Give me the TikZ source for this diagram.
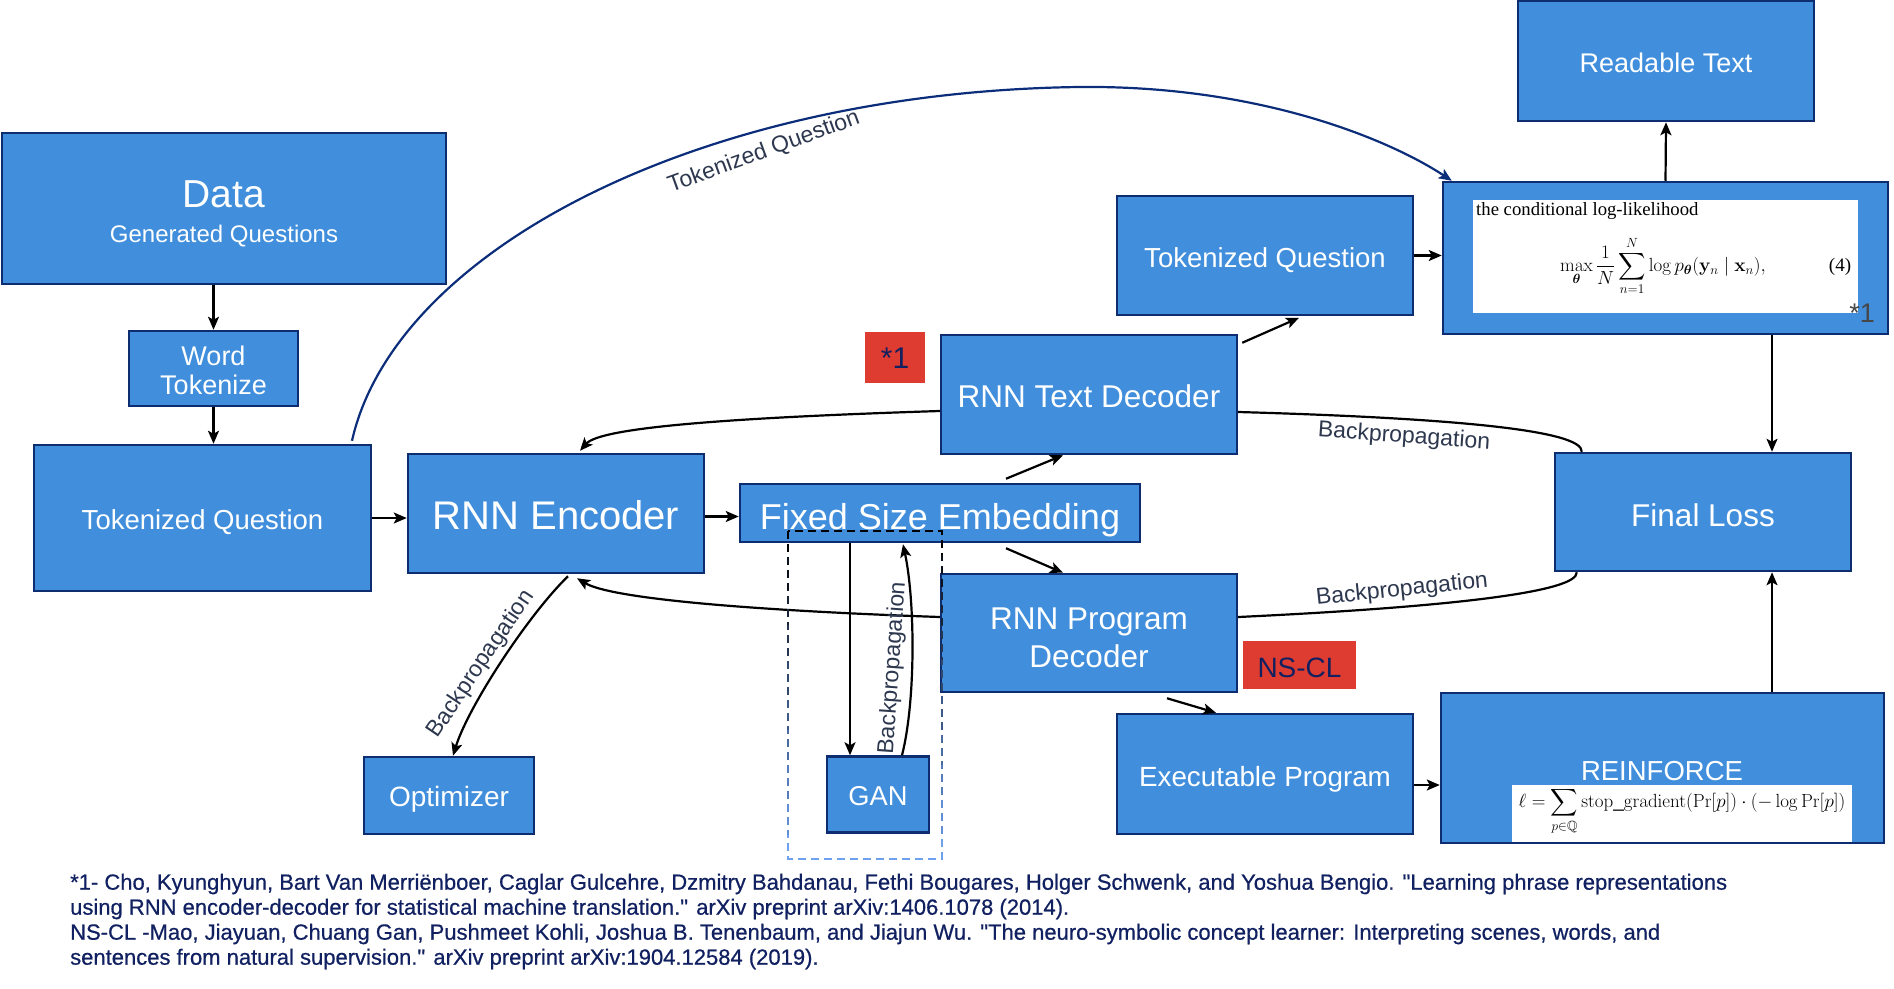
\RequirePackage{fix-cm}
\documentclass[tikz,border=0pt]{standalone}
\usepackage{amsmath,amssymb}
\usepackage[no-math]{fontspec}
\setmainfont{Liberation Sans}
\newfontfamily\timesf{Liberation Serif}
\newfontfamily\notef{Liberation Sans}[FakeBold=0.6]
\usetikzlibrary{arrows.meta,calc}
\definecolor{boxblue}{RGB}{64,142,220}
\definecolor{boxedge}{RGB}{14,45,112}
\definecolor{redbox}{RGB}{222,60,48}
\definecolor{navy}{RGB}{16,32,96}
\definecolor{labelc}{RGB}{45,55,78}
\definecolor{curveblue}{RGB}{12,46,122}
\definecolor{dashblue}{RGB}{110,160,240}
\definecolor{stargray}{RGB}{70,70,70}
\pgfdeclarelayer{bg}
\pgfsetlayers{bg,main}
\newcommand\fsz[2]{\fontsize{#1}{#2}\selectfont}
\begin{document}
\begin{tikzpicture}[x=1pt,y=-1pt,
  box/.style={draw=boxedge, fill=boxblue, line width=2.5pt, text=white, align=center, inner sep=0pt, text depth=0pt},
  redb/.style={fill=redbox, text=navy, inner sep=0pt, text depth=0pt},
  arr/.style={-{Stealth[length=13pt,width=11pt,inset=3pt]}, line width=2.2pt},
  lbl/.style={text=labelc, font=\fsz{23}{27}, inner sep=0pt},
  note/.style={text=navy, font=\notef\fsz{22}{26}, anchor=west, inner sep=0pt},
  plain/.style={inner sep=0pt}]
\useasboundingbox (0,0) rectangle (1894,988);

% ---------- boxes ----------
\node[box, minimum width=296pt, minimum height=120pt, font=\fsz{27}{32}, text height=22pt] (readable) at (1666,61) {Readable Text};
\node[box, minimum width=445pt, minimum height=152pt] (ll) at (1665.5,258) {};
\node[fill=white, inner sep=0pt, minimum width=385pt, minimum height=113pt] (llw) at (1665.5,256.5) {};
\node[plain, anchor=west, font=\timesf\fsz{18.7}{22}] (llt) at (1476,211) {the conditional log-likelihood};
\node[plain, font=\fsz{19}{23}] (llf) at (1663,266) {$\displaystyle \max_{\boldsymbol{\theta}} \frac{1}{N}\sum_{n=1}^{N} \log p_{\boldsymbol{\theta}}(\mathbf{y}_n \mid \mathbf{x}_n),$};
\node[plain, font=\timesf\fsz{19}{23}] (lleq) at (1840,267) {(4)};
\node[plain, text=stargray, font=\fsz{27}{32}] (llstar) at (1862,313) {*1};

\node[box, minimum width=296pt, minimum height=119pt, font=\fsz{27.5}{32}, text height=24.6pt] (tqr) at (1265,255.5) {Tokenized Question};
\node[box, minimum width=444pt, minimum height=151pt] (data) at (224,208.5) {};
\node[plain, text=white, font=\fsz{39}{46}] (datat) at (224,194) {Data};
\node[plain, text=white, font=\fsz{24}{28}] (datas) at (224,236) {Generated Questions};
\node[box, minimum width=169pt, minimum height=75pt, font=\fsz{27}{29}, text height=51pt] (wt) at (213.5,368.5) {Word\\Tokenize};
\node[box, minimum width=337pt, minimum height=146pt, font=\fsz{27.5}{32}, text height=22.5pt] (tql) at (202.5,518) {Tokenized Question};
\node[box, minimum width=296pt, minimum height=119pt, font=\fsz{40}{46}, text height=32pt] (enc) at (556,513.5) {RNN Encoder};
\node[box, minimum width=400pt, minimum height=58pt, font=\fsz{36}{42}, text height=32.4pt] (fse) at (940,513) {Fixed Size Embedding};
\node[redb, minimum width=60pt, minimum height=51pt, font=\fsz{30}{34}, text height=22.6pt] (star) at (895,357.5) {*1};
\node[box, minimum width=296pt, minimum height=119pt, font=\fsz{31.5}{36}, text height=26.2pt] (td) at (1089,394.5) {RNN Text Decoder};
\node[box, minimum width=296pt, minimum height=118pt, font=\fsz{31.5}{38}, text height=68pt] (pd) at (1089,633) {RNN Program\\Decoder};
\node[redb, minimum width=113pt, minimum height=48pt, font=\fsz{28}{32}, text height=25pt] (nscl) at (1299.5,665) {NS-CL};
\node[box, minimum width=296pt, minimum height=118pt, font=\fsz{31.5}{36}, text height=28.6pt] (fl) at (1703,512) {Final Loss};
\node[box, minimum width=170pt, minimum height=77pt, font=\fsz{28}{32}, text height=22.7pt] (opt) at (449,795.5) {Optimizer};
\node[box, minimum width=102pt, minimum height=76pt, font=\fsz{27.3}{32}, text height=22.2pt] (gan) at (878,794.5) {GAN};
\node[box, minimum width=296pt, minimum height=120pt, font=\fsz{27.8}{32}, text height=24.6pt] (exec) at (1265,774) {Executable Program};
\node[box, minimum width=443pt, minimum height=150pt] (rf) at (1662.5,768) {};
\node[plain, text=white, font=\fsz{27.5}{32}] (rft) at (1662,771) {REINFORCE};
\node[fill=white, inner sep=0pt, minimum width=340pt, minimum height=57pt] (rfw) at (1682,813.5) {};
\node[plain, font=\fsz{19}{23}] (rff) at (1682,811) {$\displaystyle \ell = \sum_{p\in\mathbb{Q}} \mathrm{stop\_gradient}(\Pr[p]) \cdot (-\log \Pr[p])$};

% ---------- backpropagation curves behind decoders ----------
\begin{pgfonlayer}{bg}
\draw[arr] ([xshift=28pt]fl.north west) .. controls (1583,430) and (1450,418) .. ([yshift=-17.5pt]td.east) -- ([yshift=-16.5pt]td.west) .. controls (720,418) and (600,428) .. ([xshift=24pt,yshift=2pt]enc.north);
\draw[arr] ([xshift=23pt]fl.south west) .. controls (1578,592) and (1450,607) .. ([yshift=16pt]pd.east) -- ([yshift=16pt]pd.west) .. controls (740,610) and (610,598) .. ([xshift=21pt,yshift=-4pt]enc.south);
\end{pgfonlayer}
\node[lbl, rotate=-4] (bpu) at (1404,437) {Backpropagation};
\node[lbl, rotate=6] (bpl) at (1402,590) {Backpropagation};

% ---------- straight arrows ----------
\draw[arr] (wt.north |- data.south) -- (wt.north);
\draw[arr] (wt.south) -- (wt.south |- tql.north);
\draw[arr] (tql.east) -- (tql.east -| enc.west);
\draw[arr] ([yshift=-3pt]enc.east) -- ([yshift=-3pt]enc.east -| fse.west);
\draw[arr] ([xshift=66pt,yshift=4pt]fse.north) -- ([xshift=-26pt]td.south);
\draw[arr] ([xshift=66pt,yshift=-5pt]fse.south) -- ([xshift=-26pt]pd.north);
\draw[arr] ([xshift=4pt,yshift=-9pt]td.north east) -- ([xshift=34pt,yshift=-1.5pt]tqr.south);
\draw[arr] (tqr.east) -- (tqr.east -| ll.west);
\draw[arr] (ll.north) -- (readable.south);
\coordinate (lx) at (1772,0);
\draw[arr] (lx |- ll.south) -- (lx |- fl.north);
\draw[arr] (lx |- rf.north) -- (lx |- fl.south);
\draw[arr] ([yshift=-11pt]exec.east) -- ([yshift=-11pt]exec.east -| rf.west);
\draw[arr] ([xshift=78pt,yshift=-5pt]pd.south) -- ([xshift=-49pt]exec.north);
\draw[arr] ([xshift=-90pt]fse.south) -- ([xshift=-28pt]gan.north);
\draw[arr] ([xshift=24pt]gan.north) .. controls (916,700) and (915,600) .. ([xshift=-37pt,yshift=-1pt]fse.south);
\node[lbl, rotate=86] (bpg) at (893,668) {Backpropagation};
\draw[arr] ([xshift=12pt,yshift=-2pt]enc.south) .. controls (528,615) and (468,707) .. ([xshift=4pt]opt.north);
\node[lbl, rotate=56] (bpo) at (481,664) {Backpropagation};

% ---------- long tokenized question curve ----------
\draw[arr, draw=curveblue] ([xshift=149.5pt,yshift=3pt]tql.north) .. controls (395,250) and (700,92) .. (1079,87) .. controls (1260,85) and (1390,140) .. ([xshift=10pt]ll.north west);
\node[lbl, rotate=20] (tqlab) at (764,152) {Tokenized Question};

% ---------- dashed GAN frame ----------
\foreach \i in {0,...,9}{
  \pgfmathsetmacro\p{\i*100/9}
  \begin{scope}
    \clip (770,{520+\i*35}) rectangle (960,{555+\i*35});
    \draw[dash pattern=on 8pt off 5pt, line width=1.8pt, draw=dashblue!\p!black] (788,531) rectangle (942,859);
  \end{scope}
}

% ---------- footnotes ----------
\node[note] (n1) at (70,884) {*1- Cho, Kyunghyun, Bart Van Merriënboer, Caglar Gulcehre, Dzmitry Bahdanau, Fethi Bougares, Holger Schwenk, and Yoshua Bengio. \textquotedbl Learning phrase representations};
\node[note] (n2) at (70,909) {using RNN encoder-decoder for statistical machine translation.\textquotedbl{} arXiv preprint arXiv:1406.1078 (2014).};
\node[note] (n3) at (70,934) {NS-CL -Mao, Jiayuan, Chuang Gan, Pushmeet Kohli, Joshua B. Tenenbaum, and Jiajun Wu. \textquotedbl The neuro-symbolic concept learner: Interpreting scenes, words, and};
\node[note] (n4) at (70,959) {sentences from natural supervision.\textquotedbl{} arXiv preprint arXiv:1904.12584 (2019).};
\end{tikzpicture}
\end{document}
